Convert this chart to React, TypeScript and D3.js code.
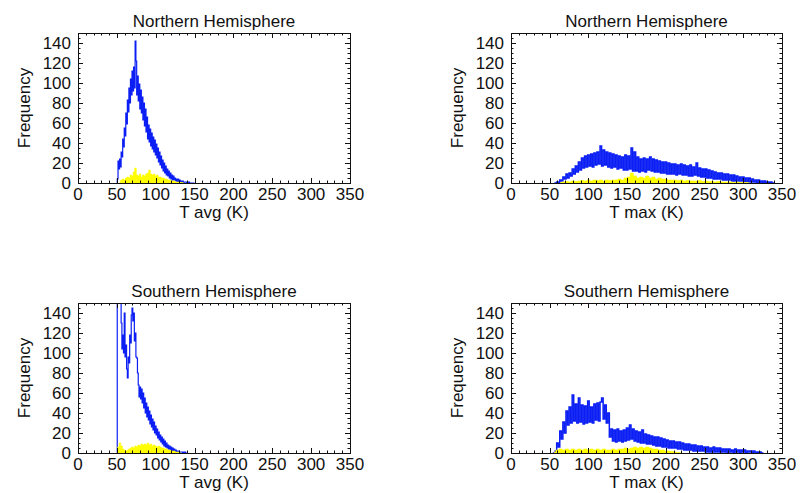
import React, { useRef, useEffect } from "react";
import * as d3 from "d3";

// Histogram counts. Each series: first bin (K) + bin width (K) + counts.
const titles = ["Northern Hemisphere", "Northern Hemisphere", "Southern Hemisphere", "Southern Hemisphere"];
const xLabels = ["T avg (K)", "T max (K)", "T avg (K)", "T max (K)"];
const xTickValues = [0, 50, 100, 150, 200, 250, 300, 350];
const yTickValues = [0, 20, 40, 60, 80, 100, 120, 140];

// Northern, T avg (1 K bins from 50 K)
const northAvgBlue = [
  0, 4, 22, 14, 24, 16, 31, 26, 44, 36, 55, 47, 70, 59, 83, 71, 95, 80, 104, 88,
  112, 92, 116, 95, 142, 122, 88, 107, 82, 99, 74, 93, 70, 86, 63, 80, 57, 74, 51, 66,
  44, 58, 41, 54, 37, 50, 34, 46, 31, 43, 28, 39, 25, 35, 21, 31, 18, 27, 15, 23,
  12, 20, 10, 17, 8, 14, 7, 12, 5, 10, 4, 8, 3, 7, 3, 5, 2, 4, 1, 4,
  1, 3, 1, 2, 0, 2, 0, 1, 1, 1, 0, 1, 0, 1, 0, 0, 0, 0, 0, 0, 0,
];
// Northern, T avg yellow (2 K bins from 54 K)
const northAvgYellow = [
  1, 3, 4, 3, 5, 6, 5, 8, 7, 11, 15, 8, 7, 9, 6, 8, 7, 9, 10, 13,
  9, 8, 9, 7, 8, 6, 6, 5, 5, 4, 4, 3, 3, 2, 2, 2, 1, 1, 1, 0.5, 0.5, 0,
];

// Northern, T max (2 K bins from 56 K)
const northMaxBlue = [
  0, 0, 1, 0, 3, 2, 6, 4, 9, 5, 10, 7, 14, 9, 17, 11, 21, 13, 25, 15,
  27, 16, 28, 17, 29, 16, 30, 18, 31, 19, 37, 17, 33, 18, 31, 16, 30, 15, 29, 16,
  28, 14, 27, 15, 26, 13, 28, 13, 27, 14, 35, 12, 31, 12, 26, 11, 24, 12, 25, 11,
  24, 13, 26, 12, 24, 11, 23, 11, 22, 10, 21, 10, 21, 9, 20, 9, 19, 9, 19, 8,
  18, 9, 19, 8, 18, 8, 17, 7, 18, 7, 16, 8, 20, 7, 15, 6, 14, 6, 14, 5,
  13, 5, 12, 4, 11, 4, 10, 4, 10, 3, 9, 3, 9, 3, 8, 2, 8, 2, 7, 2,
  6, 2, 6, 1, 5, 1, 5, 1, 4, 1, 3, 0, 3, 0, 2, 0, 2, 0, 1, 0, 1, 0, 0,
];
// Northern, T max yellow (4 K bins from 64 K)
const northMaxYellow = [
  0.5, 1, 1.5, 1, 2, 1.5, 2, 2.5, 2, 3, 2, 3, 2.5, 3, 2, 3, 2.5, 3, 3, 4,
  3, 5, 6, 10, 7, 5, 6, 5, 7, 5, 6, 4, 5, 4, 4, 3, 3, 3, 2.5, 3,
  2, 2.5, 2, 2, 2, 2.5, 1.5, 2, 1.5, 1.5, 1, 1.5, 1, 1, 1, 1, 0.5, 1, 0.5, 0.5, 0.5, 0,
];

// Southern, T avg (1 K bins from 50 K)
const southAvgBlue = [
  0, 160, 155, 165, 170, 152, 130, 104, 118, 100, 140, 96, 108, 84, 75, 96, 90, 118, 110, 138,
  145, 132, 140, 112, 120, 96, 95, 80, 68, 56, 66, 54, 64, 50, 60, 45, 55, 40, 50, 36,
  46, 33, 42, 29, 38, 26, 34, 23, 31, 20, 27, 18, 24, 15, 21, 13, 18, 11, 16, 9,
  14, 7, 12, 6, 10, 5, 8, 4, 7, 3, 6, 2, 5, 2, 4, 1, 3, 1, 2, 1,
  2, 0, 1, 1, 1, 0, 1, 0, 1, 0, 0,
];
// Southern, T avg yellow (2 K bins from 50 K)
const southAvgYellow = [
  0, 6, 10, 7, 4, 3, 2, 3, 4, 5, 6, 5, 7, 6, 8, 7, 9, 8, 9, 8,
  10, 8, 9, 7, 8, 7, 6, 7, 6, 5, 5, 4, 4, 3, 3, 2, 2, 2, 1, 1, 1, 0,
];

// Southern, T max (2 K bins from 54 K)
const southMaxBlue = [
  0, 0, 2, 10, 6, 22, 14, 31, 20, 42, 28, 46, 30, 58, 32, 49, 30, 55, 31, 48,
  29, 47, 30, 52, 31, 46, 30, 49, 33, 50, 32, 51, 55, 34, 48, 30, 40, 16, 24, 12,
  23, 11, 24, 12, 22, 11, 23, 12, 25, 13, 28, 14, 24, 12, 22, 11, 21, 10, 23, 10,
  19, 9, 18, 9, 17, 8, 16, 7, 16, 7, 15, 6, 14, 6, 13, 5, 12, 5, 12, 5,
  11, 4, 11, 4, 10, 3, 9, 3, 9, 3, 8, 2, 8, 2, 7, 2, 7, 2, 6, 1,
  6, 1, 5, 1, 6, 1, 5, 1, 5, 1, 4, 1, 4, 0, 4, 1, 3, 0, 4, 1,
  3, 0, 3, 1, 3, 0, 2, 1, 2, 0, 2, 0, 1, 0, 1, 0, 0,
];
// Southern, T max yellow (4 K bins from 56 K)
const southMaxYellow = [
  1, 3, 4, 3, 4, 3, 4, 3, 4, 3, 4, 3, 4, 3, 4, 3, 4, 3, 3, 4,
  3, 4, 4, 5, 4, 5, 6, 5, 6, 5, 6, 5, 4, 4, 3, 3, 2, 2, 1.5, 1, 0.5, 0,
];

const series = [
  { blue: northAvgBlue, blueStart: 50, blueStep: 1, yellow: northAvgYellow, yellowStart: 54, yellowStep: 2 },
  { blue: northMaxBlue, blueStart: 56, blueStep: 2, yellow: northMaxYellow, yellowStart: 64, yellowStep: 4 },
  { blue: southAvgBlue, blueStart: 50, blueStep: 1, yellow: southAvgYellow, yellowStart: 50, yellowStep: 2 },
  { blue: southMaxBlue, blueStart: 54, blueStep: 2, yellow: southMaxYellow, yellowStart: 56, yellowStep: 4 },
];

const W = 802;
const H = 493;
const boxes = [
  { left: 78, right: 350, top: 33, bottom: 183 },
  { left: 511, right: 782, top: 33, bottom: 183 },
  { left: 78, right: 350, top: 303, bottom: 453 },
  { left: 511, right: 782, top: 303, bottom: 453 },
];

const font = "'Liberation Sans', Arial, Helvetica, sans-serif";
const BLUE = "#0b1ff5";
const YELLOW = "#ffff00";
const INK = "#111";

export default function App() {
  const svgRef = useRef<SVGSVGElement>(null);

  useEffect(() => {
    const svg = d3.select(svgRef.current);
    svg.selectAll("*").remove();
    svg.append("rect").attr("width", W).attr("height", H).attr("fill", "#fff");

    boxes.forEach((b, i) => {
      const s = series[i];
      const x = d3.scaleLinear().domain([0, 350]).range([b.left, b.right]);
      const y = d3.scaleLinear().domain([0, 150]).range([b.bottom, b.top]);
      const g = svg.append("g");

      g.append("clipPath")
        .attr("id", `clip${i}`)
        .append("rect")
        .attr("x", b.left)
        .attr("y", b.top)
        .attr("width", b.right - b.left)
        .attr("height", b.bottom - b.top);

      const bluePts: [number, number][] = s.blue.map((v, k) => [s.blueStart + k * s.blueStep, v]);
      const yellowPts: [number, number][] = s.yellow.map((v, k) => [s.yellowStart + k * s.yellowStep, v]);

      const line = d3
        .line<[number, number]>()
        .x((d) => x(d[0]))
        .y((d) => y(d[1]))
        .curve(d3.curveStep);

      const area = d3
        .area<[number, number]>()
        .x((d) => x(d[0]))
        .y0(y(0))
        .y1((d) => y(d[1]))
        .curve(d3.curveStep);

      const plot = g.append("g").attr("clip-path", `url(#clip${i})`);
      plot
        .append("path")
        .datum(bluePts)
        .attr("d", line)
        .attr("fill", "none")
        .attr("stroke", BLUE)
        .attr("stroke-width", s.blueStep > 1 ? 1.5 : 1.2);
      plot
        .append("path")
        .datum(yellowPts)
        .attr("d", area)
        .attr("fill", YELLOW)
        .attr("stroke", YELLOW)
        .attr("stroke-width", 0.6);

      // frame
      g.append("rect")
        .attr("x", b.left + 0.5)
        .attr("y", b.top + 0.5)
        .attr("width", b.right - b.left)
        .attr("height", b.bottom - b.top)
        .attr("fill", "none")
        .attr("stroke", INK)
        .attr("stroke-width", 1);

      // inward ticks on all four sides
      const tick = (x1: number, y1: number, x2: number, y2: number) =>
        g.append("line")
          .attr("x1", x1).attr("y1", y1).attr("x2", x2).attr("y2", y2)
          .attr("stroke", INK).attr("stroke-width", 1);

      d3.range(0, 351, 10).forEach((v) => {
        const len = v % 50 === 0 ? 5 : 2.5;
        const px = Math.round(x(v)) + 0.5;
        tick(px, b.bottom, px, b.bottom - len);
        tick(px, b.top, px, b.top + len);
      });
      d3.range(0, 151, 5).forEach((v) => {
        const len = v % 20 === 0 ? 5 : 2.5;
        const py = Math.round(y(v)) + 0.5;
        tick(b.left, py, b.left + len, py);
        tick(b.right, py, b.right - len, py);
      });

      const text = (t: string, tx: number, ty: number, anchor: string) =>
        g.append("text")
          .attr("x", tx)
          .attr("y", ty)
          .attr("text-anchor", anchor)
          .attr("font-family", font)
          .attr("font-size", 17)
          .attr("fill", INK)
          .text(t);

      xTickValues.forEach((v) => text(String(v), x(v), b.bottom + 17, "middle"));
      yTickValues.forEach((v) => text(String(v), b.left - 7, y(v) + 6, "end"));

      const cx = (b.left + b.right) / 2;
      text(titles[i], cx, b.top - 6, "middle");
      text(xLabels[i], cx, b.bottom + 35, "middle");

      const cy = (b.top + b.bottom) / 2;
      g.append("text")
        .attr("transform", `translate(${b.left - 48},${cy}) rotate(-90)`)
        .attr("text-anchor", "middle")
        .attr("font-family", font)
        .attr("font-size", 17)
        .attr("fill", INK)
        .text("Frequency");
    });
  }, []);

  return (
    <svg
      ref={svgRef}
      width={W}
      height={H}
      style={{ position: "absolute", left: 0, top: 0, display: "block" }}
    />
  );
}
